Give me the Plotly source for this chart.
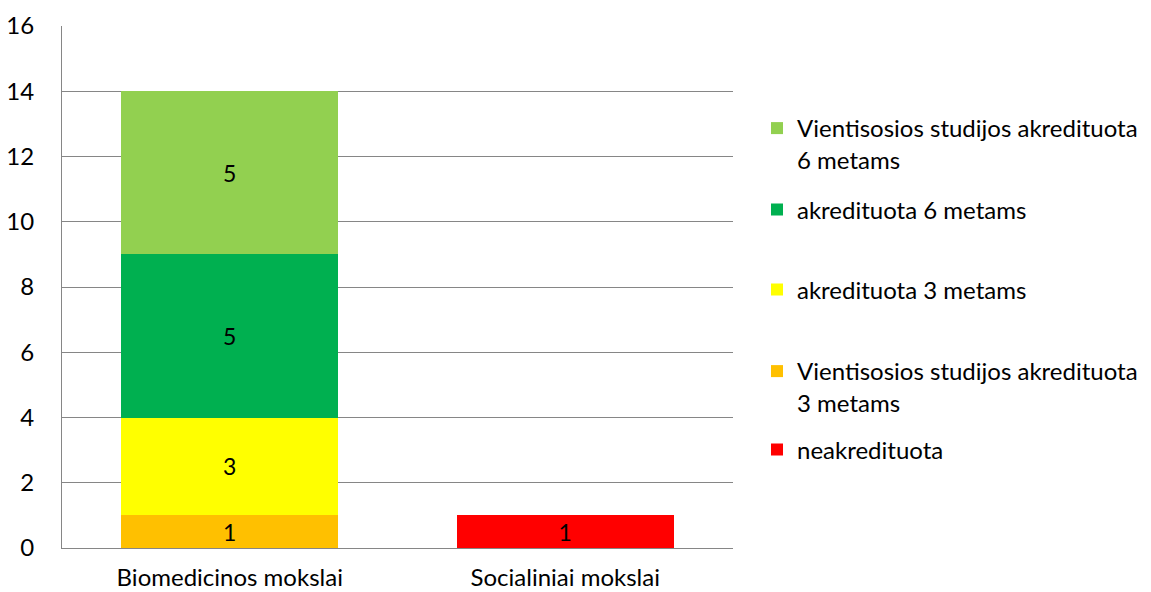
import plotly.graph_objects as go

categories = ["Biomedicinos mokslai", "Socialiniai mokslai"]
series_names = [
    "neakredituota",
    "Vientisosios studijos akredituota<br>3 metams",
    "akredituota 3 metams",
    "akredituota 6 metams",
    "Vientisosios studijos akredituota<br>6 metams",
]
neakredituota = [0, 1]
vient_3 = [1, 0]
akred_3 = [3, 0]
akred_6 = [5, 0]
vient_6 = [5, 0]
series_values = [neakredituota, vient_3, akred_3, akred_6, vient_6]
colors = ["#FF0000", "#FFC000", "#FFFF00", "#00B050", "#92D050"]
y_ticks = [0, 2, 4, 6, 8, 10, 12, 14, 16]

FONT = "Lato"
FS = 24
W, H = 1151, 592

# legend item vertical centres (pixels from top)
legend_y_px = [450, 387, 290, 210, 144]

fig = go.Figure()
for i, (name, vals, col) in enumerate(zip(series_names, series_values, colors)):
    lg = "legend" if i == 0 else f"legend{i+1}"
    fig.add_trace(go.Bar(
        x=categories, y=vals, name=name,
        marker=dict(color=col, line=dict(width=0)),
        text=[str(v) if v else "" for v in vals],
        textposition="inside", insidetextanchor="middle",
        textangle=0, constraintext="none",
        textfont=dict(family=FONT, size=FS - 1, color="black"),
        legend=lg,
    ))

layout_legends = {}
for i, ypx in enumerate(legend_y_px):
    key = "legend" if i == 0 else f"legend{i+1}"
    layout_legends[key] = dict(
        x=757 / W, xref="container", xanchor="left",
        y=1 - ypx / H, yref="container", yanchor="middle",
        font=dict(family=FONT, size=FS, color="black"),
        bgcolor="rgba(0,0,0,0)", valign="top", itemclick=False,
    )

fig.update_layout(
    width=W, height=H,
    barmode="stack", bargap=0.353,
    plot_bgcolor="white", paper_bgcolor="white",
    margin=dict(l=62, r=W - 733, t=26, b=H - 548, pad=0, autoexpand=False),
    font=dict(family=FONT, size=FS, color="black"),
    showlegend=True,
    **layout_legends,
)
fig.update_yaxes(
    range=[0, 16], tickvals=y_ticks, showgrid=True, gridcolor="#868686", gridwidth=1,
    showline=True, linecolor="#868686", linewidth=1, zeroline=False,
    ticks="", tickfont=dict(family=FONT, size=FS, color="black"), ticklabelstandoff=22,
)
fig.update_xaxes(
    showline=True, linecolor="#868686", linewidth=1, ticks="",
    tickfont=dict(family=FONT, size=FS, color="black"), ticklabelstandoff=8,
)

fig.write_html("out.html", config={"displayModeBar": False},
               post_script="document.body.style.margin='0';")
